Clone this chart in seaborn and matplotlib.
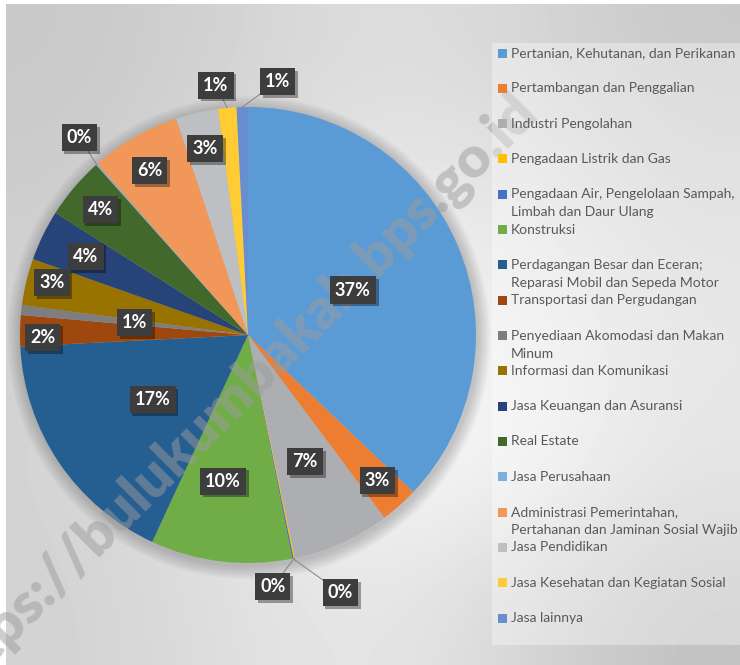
import numpy as np
import matplotlib
matplotlib.use("Agg")
import matplotlib.pyplot as plt
import matplotlib.patheffects as pe
from matplotlib.patches import Rectangle, Circle
from matplotlib.font_manager import FontProperties
import seaborn as sns

# ---------------- data ----------------
sectors = [
    "Pertanian, Kehutanan, dan Perikanan",
    "Pertambangan dan Penggalian",
    "Industri Pengolahan",
    "Pengadaan Listrik dan Gas",
    "Pengadaan Air, Pengelolaan Sampah,\nLimbah dan Daur Ulang",
    "Konstruksi",
    "Perdagangan Besar dan Eceran;\nReparasi Mobil dan Sepeda Motor",
    "Transportasi dan Pergudangan",
    "Penyediaan Akomodasi dan Makan\nMinum",
    "Informasi dan Komunikasi",
    "Jasa Keuangan dan Asuransi",
    "Real Estate",
    "Jasa Perusahaan",
    "Administrasi Pemerintahan,\nPertahanan dan Jaminan Sosial Wajib",
    "Jasa Pendidikan",
    "Jasa Kesehatan dan Kegiatan Sosial",
    "Jasa lainnya",
]
shares = [37.1, 2.7, 6.9, 0.1, 0.1, 10.0, 17.3, 2.2, 0.7, 3.3, 3.6, 4.4, 0.1, 6.4, 3.0, 1.3, 0.8]
colors = ["#5B9BD5", "#ED7D31", "#ADAEB2", "#FFC000", "#4472C4", "#70AD47",
          "#255E91", "#9E480E", "#7E7E80", "#997300", "#264478", "#43682B",
          "#7CAFDD", "#F1975A", "#BEBFC3", "#FFCD33", "#698ED0"]
watermark = "https://bulukumbakab.bps.go.id"

# ---------------- layout (label placement, not data) ----------------
label_r = [0.50, 0.855, 0.61, 1.11, 1.20, 0.65, 0.505, 0.90, 0.50, 0.89, 0.79,
           0.85, 1.14, 0.84, 0.84, 1.105, 1.12]
label_shift = [0, 0, 0, 6.1, -8.4, 2.9, 0, -1.7, 0, 1.4, 0, 0, 1.1, -1, 0, -2.1, 8.1]

sns.set_theme(style="white")
plt.rcParams['font.family'] = ['Lato', 'DejaVu Sans']

W, H = 740, 665
fig = plt.figure(figsize=(W / 100, H / 100), dpi=100)
fig.patch.set_facecolor("white")

# background gradient (chart area)
bg = fig.add_axes([6 / W, 0, (W - 6) / W, (H - 4) / H])
grid = np.array([
    [200, 210, 222, 215, 200],
    [205, 220, 235, 232, 212],
    [210, 226, 243, 241, 220],
    [212, 229, 247, 246, 216],
    [210, 222, 232, 214, 192],
], dtype=float)
bg.imshow(grid, cmap="gray", vmin=0, vmax=255, interpolation="bicubic",
          extent=[0, 1, 0, 1], aspect="auto")
bg.set_xlim(0, 1); bg.set_ylim(0, 1)
bg.axis("off")

# pie axes
R, LIM = 228.0, 1.2
cx, cy = 248.0, 335.0
side = 2 * LIM * R
ax = fig.add_axes([(cx - side / 2) / W, (H - cy - side / 2) / H, side / W, side / H])

# soft shadow around the pie
for k in range(10):
    ax.add_patch(Circle((0.004, -0.012), 1.0 + 0.006 * (k + 1), fc="black",
                        ec="none", alpha=0.018, zorder=0.5))

wedges, _ = ax.pie(shares, colors=colors, startangle=90, counterclock=False,
                   radius=1, wedgeprops=dict(linewidth=0, zorder=1))
ax.set_xlim(-LIM, LIM); ax.set_ylim(-LIM, LIM)
ax.axis("off")

total = float(np.sum(shares))
cum = np.cumsum([0] + list(shares))
for i, v in enumerate(shares):
    mid = (cum[i] + v / 2) / total * 360.0
    ang = np.deg2rad(mid + label_shift[i])
    r = label_r[i]
    lx, ly = r * np.sin(ang), r * np.cos(ang)
    if r > 1.0:
        ex, ey = np.sin(np.deg2rad(mid)), np.cos(np.deg2rad(mid))
        ax.plot([ex, lx], [ey, ly], color="#8a8a8a", lw=0.8, zorder=3, clip_on=False)
    t = ax.text(lx, ly, f"{v / total * 100:.0f}%", ha="center", va="center",
                color="white", fontsize=13, fontweight="bold", zorder=6,
                bbox=dict(boxstyle="square,pad=0.28", fc="#3d3d3d", ec="none"))
    t.get_bbox_patch().set_path_effects(
        [pe.withSimplePatchShadow(offset=(2, -2), shadow_rgbFace="black", alpha=0.35)])

# watermark: fit so that the first 'b' and the final 'd' land where they are
fig.canvas.draw()
renderer = fig.canvas.get_renderer()
f0 = 40.0
fp = FontProperties(family=['Lato', 'DejaVu Sans'], weight='heavy', size=f0)
def tw(s):
    return renderer.get_text_width_height_descent(s, fp, ismath=False)[0]
xb = tw("https://") + tw("b") / 2
xd = tw(watermark[:-1]) + tw("d") / 2
xc = tw(watermark) / 2
B = np.array([97.0, 665 - 535.0])   # pixel coords, origin bottom-left
D = np.array([517.0, 665 - 115.0])
d = D - B
dist = np.hypot(*d)
scale = dist / (xd - xb)
u = d / dist
C = B + (xc - xb) * scale * u
rot = np.degrees(np.arctan2(d[1], d[0]))
ax.text(C[0] / W, C[1] / H, watermark, transform=fig.transFigure,
        ha="center", va="center", rotation=rot, rotation_mode="anchor",
        fontproperties=FontProperties(family=['Lato', 'DejaVu Sans'], weight='heavy',
                                      size=f0 * scale),
        color="#9c9c9c", alpha=0.5, zorder=4, clip_on=False)

# legend (drawn in pixel space)
lg = fig.add_axes([0, 0, 1, 1], zorder=10)
lg.set_xlim(0, W); lg.set_ylim(H, 0)
lg.axis("off")
lg.add_patch(Rectangle((492, 43), 248, 602, fc="white", ec="none", alpha=0.35))
rows = np.linspace(53, 618, len(sectors))
for name, col, y in zip(sectors, colors, rows):
    lg.add_patch(Rectangle((498, y - 4.5), 9, 9, fc=col, ec="none"))
    for j, line in enumerate(name.split("\n")):
        lg.text(511, y + 18 * j, line, ha="left", va="center", fontsize=10,
                color="#595959")

fig.savefig("out.png", dpi=100)
